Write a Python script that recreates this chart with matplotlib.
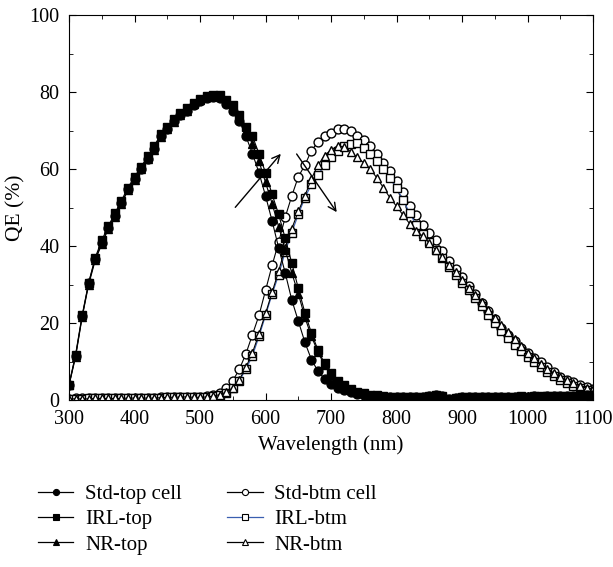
import matplotlib.pyplot as plt
import numpy as np
from matplotlib.lines import Line2D
from matplotlib.ticker import MultipleLocator

plt.rcParams['font.family'] = ['Liberation Serif', 'DejaVu Serif']

# wavelength grid, nm
wl = np.arange(300, 1101, 10)

std_top = [4, 11.5, 21.7, 30.4, 36.7, 40.8, 44.7, 47.9, 51.2, 54.7,
           57.5, 60.1, 62.7, 65.3, 68.6, 70.5, 72.5, 74, 75, 76.6,
           77.7, 78.5, 78.8, 78.5, 77, 75, 72.5, 68.5, 64, 59,
           53, 46.5, 39.5, 33, 26, 20.5, 15, 10.5, 7.5, 5.5,
           4.2, 3.2, 2.5, 2, 1.6, 1.3, 1.1, 1.0, 0.9, 0.8,
           0.8, 0.7, 0.7, 0.8, 0.9, 1.1, 1.3, 1.0, 0.2, 0.6,
           0.7, 0.7, 0.8, 0.7, 0.8, 0.8, 0.9, 0.8, 0.9, 0.9,
           0.9, 1.0, 0.9, 1.0, 1.0, 1.1, 1.0, 1.1, 1.1, 1.2,
           1.2]
irl_top = [4, 11.8, 22, 30.5, 37, 41.5, 45.2, 48.5, 51.8, 55.2,
           58, 60.6, 63.3, 66, 69, 71, 73, 74.6, 75.8, 77.2,
           78.2, 78.9, 79.2, 79.2, 78, 76.5, 74, 71, 68.5, 64,
           59, 53.4, 48.2, 42, 35.6, 29, 22.7, 17.4, 13, 9.5,
           7, 5, 3.8, 2.8, 2.2, 1.7, 1.4, 1.2, 1.0, 0.9,
           0.8, 0.8, 0.7, 0.8, 0.9, 1.0, 1.2, 1.0, 0.3, 0.6,
           0.7, 0.8, 0.8, 0.7, 0.8, 0.9, 0.9, 0.8, 0.9, 1.0,
           0.9, 1.0, 1.0, 1.0, 1.1, 1.1, 1.0, 1.1, 1.2, 1.2,
           1.2]
nr_top = [3.8, 11.2, 21.5, 30, 36.3, 40.5, 44.5, 47.6, 51, 54.5,
          57.2, 60, 62.5, 65, 68.3, 70.3, 72.3, 74, 75.2, 76.8,
          77.8, 78.6, 79, 78.8, 77.5, 75.5, 73, 70, 66.5, 62,
          56.5, 51, 45, 39, 33, 27.6, 21.5, 16.5, 12.5, 9,
          6.5, 4.8, 3.6, 2.7, 2.1, 1.7, 1.4, 1.2, 1.0, 0.9,
          0.8, 0.8, 0.7, 0.8, 0.9, 1.0, 1.2, 1.0, 0.3, 0.6,
          0.7, 0.7, 0.8, 0.8, 0.8, 0.9, 0.9, 0.9, 0.9, 1.0,
          1.0, 1.0, 1.0, 1.1, 1.1, 1.1, 1.1, 1.1, 1.2, 1.2,
          1.2]
std_btm = [0.3, 0.4, 0.4, 0.4, 0.4, 0.4, 0.5, 0.5, 0.5, 0.5,
           0.5, 0.5, 0.6, 0.6, 0.7, 0.8, 0.9, 0.9, 0.9, 0.8,
           0.9, 1.0, 1.3, 1.8, 3, 5, 8, 12, 17, 22,
           28.5, 35, 41, 47.5, 53, 58, 61, 64.8, 67, 68.6,
           69.4, 70.3, 70.3, 69.8, 68.6, 67.5, 66, 63.8, 61.6, 59.5,
           57, 54, 50.5, 48, 45.5, 43.5, 41.5, 38.6, 36, 34,
           32, 29.5, 27.5, 25.2, 23, 21, 18.7, 17, 15.2, 13.5,
           12.2, 11, 9.8, 8.5, 7.2, 6.1, 5.2, 4.6, 4.0, 3.4,
           2.9]
irl_btm = [0.3, 0.3, 0.3, 0.4, 0.4, 0.4, 0.4, 0.4, 0.5, 0.5,
           0.5, 0.5, 0.5, 0.6, 0.6, 0.7, 0.8, 0.8, 0.8, 0.7,
           0.7, 0.8, 1.0, 1.3, 1.8, 3, 5, 8, 11.5, 16.5,
           22, 27.5, 32.5, 38.5, 43.5, 48.2, 52.5, 56, 58.5, 61,
           63, 64.8, 66, 66.6, 66.8, 65.5, 64, 62, 60, 57.7,
           55, 52, 48.5, 45.5, 43, 41, 39, 37, 34.5, 32.5,
           30.5, 28.5, 26.5, 24.3, 22, 20, 18, 16.2, 14.4, 12.7,
           11.2, 9.8, 8.5, 7.3, 6.2, 5.2, 4.4, 3.6, 3.0, 2.5,
           2.2]
nr_btm = [0.3, 0.3, 0.3, 0.3, 0.4, 0.4, 0.4, 0.4, 0.4, 0.5,
          0.5, 0.5, 0.5, 0.5, 0.6, 0.7, 0.7, 0.8, 0.8, 0.7,
          0.7, 0.8, 1.0, 1.4, 2, 3.2, 5.3, 8.5, 12.3, 17.2,
          22.5, 28, 33.5, 39.5, 44.5, 49, 53, 57.5, 61, 63.5,
          65, 66, 65.8, 64.5, 63, 61.6, 59.9, 57.7, 55.1, 52.5,
          50.3, 48, 45.8, 44, 42.5, 40.8, 39, 37.2, 35.2, 33.3,
          31.3, 29.1, 27.3, 25.5, 23.4, 21.3, 19.4, 17.6, 15.8, 14,
          12.3, 10.8, 9.4, 8.1, 7, 6, 5.1, 4.3, 3.6, 3.1,
          2.8]

labels = ["Std-top cell", "IRL-top", "NR-top", "Std-btm cell", "IRL-btm", "NR-btm"]

fig = plt.figure(figsize=(6.13, 5.67), dpi=100)
ax = fig.add_axes([0.1126, 0.2945, 0.855, 0.679])

ms = 6.4
kw = dict(lw=0.8, ms=ms, mew=1.0, mec='black')
# bottom cells first, then top cells over them
h_sb, = ax.plot(wl, std_btm, '-o', color='black', mfc='white', **kw)
h_ib, = ax.plot(wl, irl_btm, '-s', color='#3a5fb0', mfc='white', **kw)
h_nb, = ax.plot(wl, nr_btm, '-^', color='black', mfc='white', **kw)
h_st, = ax.plot(wl, std_top, '-o', color='black', mfc='black', **kw)
h_it, = ax.plot(wl, irl_top, '-s', color='black', mfc='black', **kw)
h_nt, = ax.plot(wl, nr_top, '-^', color='black', mfc='black', **kw)

ax.annotate('', xy=(626, 64.5), xytext=(551, 49.5),
            arrowprops=dict(arrowstyle='->', color='black', lw=1.0, mutation_scale=14))
ax.annotate('', xy=(711, 48.2), xytext=(645, 64.5),
            arrowprops=dict(arrowstyle='->', color='black', lw=1.0, mutation_scale=14))

ax.set_xlim(300, 1100)
ax.set_ylim(0, 100)
ax.xaxis.set_major_locator(MultipleLocator(100))
ax.xaxis.set_minor_locator(MultipleLocator(50))
ax.yaxis.set_major_locator(MultipleLocator(20))
ax.yaxis.set_minor_locator(MultipleLocator(10))
ax.tick_params(which='both', direction='in', top=True, right=True, labelsize=14.5)
ax.tick_params(axis='x', which='both', pad=7)
ax.tick_params(axis='y', which='both', pad=7)
ax.tick_params(which='major', length=5)
ax.tick_params(which='minor', length=3)
ax.set_xlabel("Wavelength (nm)", fontsize=15, labelpad=5)
ax.set_ylabel("QE (%)", fontsize=15.5, labelpad=3)

def leg_handle(marker, fc, lc='black'):
    return Line2D([], [], color=lc, lw=0.9, marker=marker, ms=4.4, mfc=fc, mec='black', mew=0.8)

handles = [leg_handle('o', 'black'), leg_handle('s', 'black'), leg_handle('^', 'black'),
           leg_handle('o', 'white'), leg_handle('s', 'white', '#3a5fb0'), leg_handle('^', 'white')]
fig.legend(handles, labels, loc='upper left', bbox_to_anchor=(0.062, 0.146), ncol=2,
           frameon=False, fontsize=15, handlelength=1.7, handletextpad=0.55,
           columnspacing=2.2, labelspacing=0.28, borderaxespad=0, borderpad=0)

fig.savefig("out.png", dpi=100)
